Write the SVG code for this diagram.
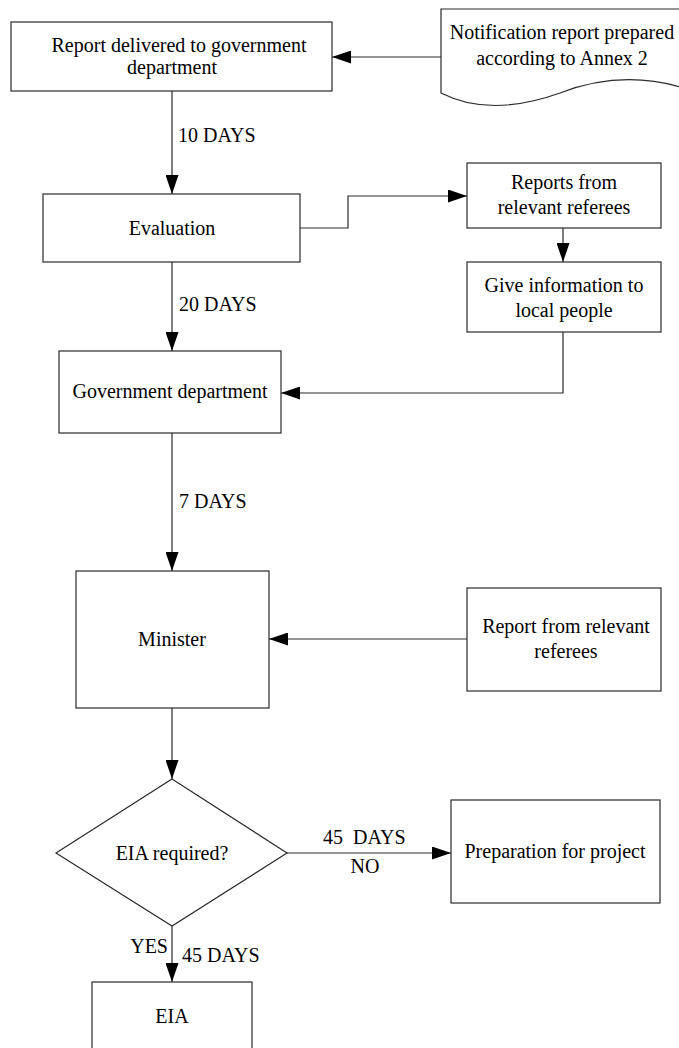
<svg xmlns="http://www.w3.org/2000/svg" width="679" height="1048" viewBox="0 0 679 1048">
  <style>
    .shape { fill: #ffffff; stroke: #2a2a2a; stroke-width: 1.2; }
    .edge { fill: none; stroke: #2a2a2a; stroke-width: 1.2; }
    text { font-family: "Liberation Serif", "Times New Roman", Times, "DejaVu Serif", serif; font-size: 20px; fill: #000000; }
    .c { text-anchor: middle; }
    .e { text-anchor: end; }
  </style>
  <defs>
    <marker id="arrow" markerUnits="userSpaceOnUse" markerWidth="19" markerHeight="13" refX="19" refY="6.5" orient="auto">
      <path d="M0,0 L19,6.5 L0,13 z" fill="#000000"/>
    </marker>
  </defs>

  <rect width="679" height="1048" fill="#ffffff"/>

  <!-- connectors and their labels -->
  <g id="connectors" font-family="Liberation Serif, Times New Roman, serif">
    <line class="edge" x1="441" y1="57" x2="332" y2="57" marker-end="url(#arrow)"/>
    <line class="edge" x1="172" y1="91" x2="172" y2="194" marker-end="url(#arrow)"/>
    <polyline class="edge" points="300,228 348,228 348,196 467,196" marker-end="url(#arrow)"/>
    <line class="edge" x1="563" y1="228" x2="563" y2="262" marker-end="url(#arrow)"/>
    <polyline class="edge" points="563,332 563,393 281,393" marker-end="url(#arrow)"/>
    <line class="edge" x1="172" y1="262" x2="172" y2="351" marker-end="url(#arrow)"/>
    <line class="edge" x1="172" y1="433" x2="172" y2="571" marker-end="url(#arrow)"/>
    <line class="edge" x1="467" y1="639" x2="269" y2="639" marker-end="url(#arrow)"/>
    <line class="edge" x1="172" y1="708" x2="172" y2="779" marker-end="url(#arrow)"/>
    <line class="edge" x1="287" y1="853" x2="451" y2="853" marker-end="url(#arrow)"/>
    <line class="edge" x1="172" y1="926" x2="172" y2="982" marker-end="url(#arrow)"/>

    <text x="178" y="142">10 DAYS</text>
    <text x="179" y="311">20 DAYS</text>
    <text x="179" y="508">7 DAYS</text>
    <text x="323" y="844" xml:space="preserve">45  DAYS</text>
    <text class="c" x="365" y="873">NO</text>
    <text class="e" x="168" y="953">YES</text>
    <text x="182" y="962">45 DAYS</text>
  </g>

  <!-- notification document with wavy lower edge -->
  <g id="notification">
    <path class="shape" d="M441,93 V9 H690 V90 Q625,68 560,93 Q490,118 441,93 z"/>
    <text class="c" x="562" y="39">Notification report prepared</text>
    <text class="c" x="562" y="65">according to Annex 2</text>
  </g>

  <g id="report-delivered">
    <rect class="shape" x="11" y="22" width="321" height="69"/>
    <text class="c" x="179" y="52">Report delivered to government</text>
    <text class="c" x="172" y="74">department</text>
  </g>

  <g id="evaluation">
    <rect class="shape" x="43" y="194" width="257" height="68"/>
    <text class="c" x="172" y="235">Evaluation</text>
  </g>

  <g id="reports-referees">
    <rect class="shape" x="467" y="163" width="194" height="65"/>
    <text class="c" x="564" y="189">Reports from</text>
    <text class="c" x="564" y="214">relevant referees</text>
  </g>

  <g id="local-people">
    <rect class="shape" x="467" y="262" width="194" height="70"/>
    <text class="c" x="564" y="292">Give information to</text>
    <text class="c" x="564" y="317">local people</text>
  </g>

  <g id="government">
    <rect class="shape" x="59" y="351" width="222" height="82"/>
    <text class="c" x="170" y="398">Government department</text>
  </g>

  <g id="minister">
    <rect class="shape" x="76" y="571" width="193" height="137"/>
    <text class="c" x="172" y="646">Minister</text>
  </g>

  <g id="report-referees">
    <rect class="shape" x="467" y="588" width="194" height="103"/>
    <text class="c" x="566" y="633">Report from relevant</text>
    <text class="c" x="566" y="658">referees</text>
  </g>

  <g id="eia-decision">
    <polygon class="shape" points="172,779 287,853 172,926 56,853"/>
    <text class="c" x="172" y="860">EIA required?</text>
  </g>

  <g id="preparation">
    <rect class="shape" x="451" y="800" width="209" height="103"/>
    <text class="c" x="555" y="858">Preparation for project</text>
  </g>

  <g id="eia">
    <rect class="shape" x="92" y="982" width="160" height="80"/>
    <text class="c" x="172" y="1023">EIA</text>
  </g>
</svg>
